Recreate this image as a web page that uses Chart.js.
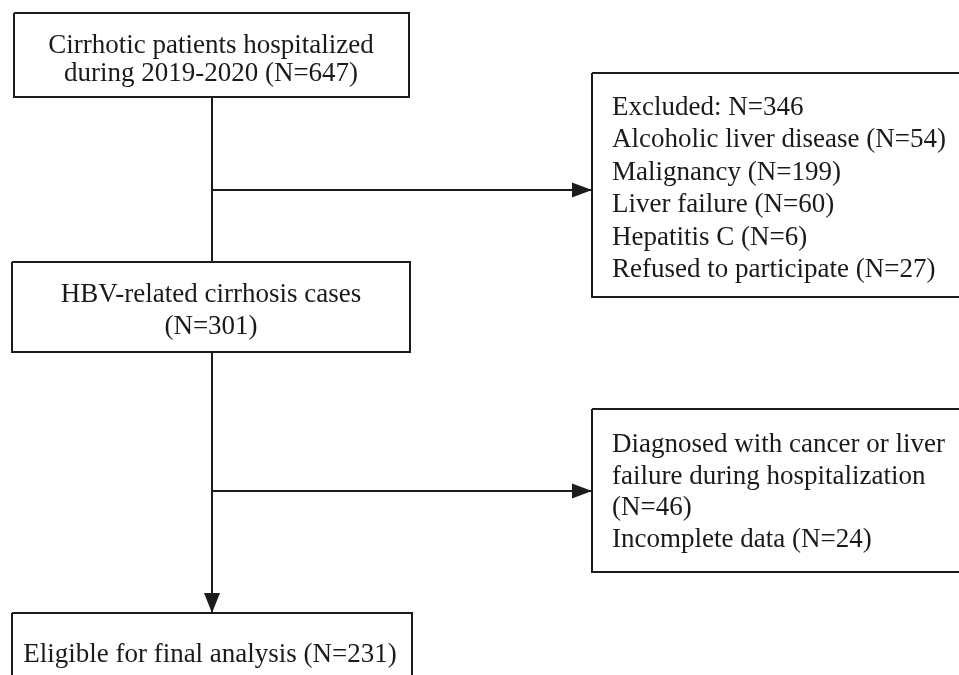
<!DOCTYPE html>
<html>
<head>
<meta charset="utf-8">
<script src="https://cdn.jsdelivr.net/npm/chart.js@4.4.1/dist/chart.umd.min.js"></script>
<style>
  html, body { margin: 0; padding: 0; background: #fff; }
  #wrap { width: 959px; height: 675px; position: relative; }
</style>
</head>
<body>
<div id="wrap"><canvas id="flow"></canvas></div>
<script>
// data
const stageLabels = ['Cirrhotic patients hospitalized during 2019-2020', 'HBV-related cirrhosis cases', 'Eligible for final analysis'];
const stageCounts = [647, 301, 231];
const excludedTotal = 346;
const exclusion1Reasons = ['Alcoholic liver disease', 'Malignancy', 'Liver failure', 'Hepatitis C', 'Refused to participate'];
const exclusion1Counts = [54, 199, 60, 6, 27];
const exclusion2Reasons = ['Diagnosed with cancer or liver failure during hospitalization', 'Incomplete data'];
const exclusion2Counts = [46, 24];

// layout in canvas units (x 0..959, y 0..675 top-down)
const boxes = [
  { x0: 14, y0: 13, x1: 409, y1: 97, align: 'center', cx: 211, base: 53, step: 27.5,
    lines: ['Cirrhotic patients hospitalized', stageLabels[0].replace('Cirrhotic patients hospitalized ', '') + ' (N=' + stageCounts[0] + ')'] },
  { x0: 12, y0: 262, x1: 410, y1: 352, align: 'center', cx: 211, base: 302, step: 31.5,
    lines: [stageLabels[1], '(N=' + stageCounts[1] + ')'] },
  { x0: 12, y0: 613, x1: 412, y1: 700, align: 'center', cx: 210, base: 662, step: 32,
    lines: [stageLabels[2] + ' (N=' + stageCounts[2] + ')'] },
  { x0: 592, y0: 73, x1: 975, y1: 297, align: 'left', cx: 612, base: 115, step: 32.4,
    lines: ['Excluded: N=' + excludedTotal].concat(exclusion1Reasons.map((r, i) => r + ' (N=' + exclusion1Counts[i] + ')')) },
  { x0: 592, y0: 409, x1: 975, y1: 572, align: 'left', cx: 612, base: 452, step: 31.7,
    lines: ['Diagnosed with cancer or liver', 'failure during hospitalization', '(N=' + exclusion2Counts[0] + ')',
            exclusion2Reasons[1] + ' (N=' + exclusion2Counts[1] + ')'] }
];

const connectors = [
  { pts: [[212, 97], [212, 262]], arrow: null },
  { pts: [[212, 190], [592, 190]], arrow: 'right' },
  { pts: [[212, 352], [212, 613]], arrow: 'down' },
  { pts: [[212, 491], [592, 491]], arrow: 'right' }
];

const ink = '#1c1c1c';
const datasets = [];
boxes.forEach(b => {
  datasets.push({
    data: [{x: b.x0, y: b.y0}, {x: b.x1, y: b.y0}, {x: b.x1, y: b.y1}, {x: b.x0, y: b.y1}, {x: b.x0, y: b.y0}],
    showLine: true, borderColor: ink, borderWidth: 2, pointRadius: 0, fill: false, tension: 0
  });
});
connectors.forEach(c => {
  datasets.push({
    data: c.pts.map(p => ({x: p[0], y: p[1]})),
    showLine: true, borderColor: ink, borderWidth: 2, pointRadius: 0, fill: false
  });
});

const flowPlugin = {
  id: 'flowPlugin',
  beforeDraw(chart) {
    const ctx = chart.ctx;
    ctx.save();
    ctx.fillStyle = '#fff';
    ctx.fillRect(0, 0, chart.width, chart.height);
    ctx.restore();
  },
  afterDatasetsDraw(chart) {
    const ctx = chart.ctx;
    const xs = chart.scales.x, ys = chart.scales.y;
    ctx.save();
    // arrow heads
    ctx.fillStyle = ink;
    connectors.forEach(c => {
      if (!c.arrow) return;
      const end = c.pts[c.pts.length - 1];
      const tx = xs.getPixelForValue(end[0]), ty = ys.getPixelForValue(end[1]);
      ctx.beginPath();
      if (c.arrow === 'right') {
        ctx.moveTo(tx, ty);
        ctx.lineTo(tx - 20, ty - 7.5);
        ctx.lineTo(tx - 20, ty + 7.5);
      } else {
        ctx.moveTo(tx, ty);
        ctx.lineTo(tx - 8, ty - 20);
        ctx.lineTo(tx + 8, ty - 20);
      }
      ctx.closePath();
      ctx.fill();
    });
    // box texts
    ctx.fillStyle = '#1a1a1a';
    ctx.font = '27px "Liberation Serif", "Times New Roman", serif';
    ctx.textBaseline = 'alphabetic';
    boxes.forEach(b => {
      ctx.textAlign = b.align;
      b.lines.forEach((t, i) => {
        ctx.fillText(t, xs.getPixelForValue(b.cx), ys.getPixelForValue(b.base + i * b.step));
      });
    });
    ctx.restore();
  }
};

new Chart(document.getElementById('flow'), {
  type: 'scatter',
  data: { datasets: datasets },
  options: {
    responsive: true,
    maintainAspectRatio: false,
    animation: false,
    devicePixelRatio: 1,
    layout: { padding: 0 },
    plugins: { legend: { display: false }, tooltip: { enabled: false } },
    scales: {
      x: { type: 'linear', min: 0, max: 959, display: false },
      y: { type: 'linear', min: 0, max: 675, reverse: true, display: false }
    }
  },
  plugins: [flowPlugin]
});
</script>
</body>
</html>
